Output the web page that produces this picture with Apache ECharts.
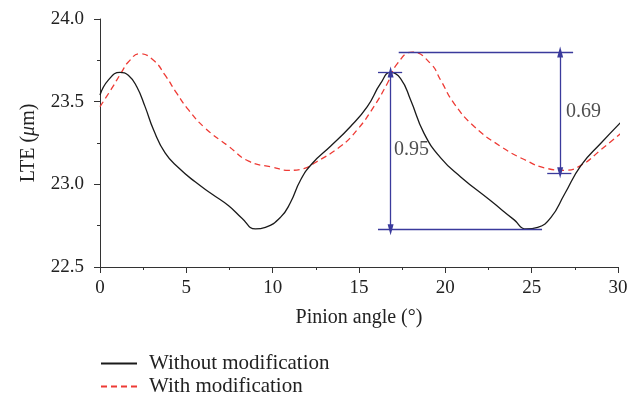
<!DOCTYPE html>
<html>
<head>
<meta charset="utf-8">
<script src="https://cdn.jsdelivr.net/npm/echarts@6/dist/echarts.min.js"></script>
<style>html,body{margin:0;padding:0;background:#fff}#c{width:637px;height:402px}</style>
</head>
<body>
<div id="c"></div>
<script>
// ---- data ----
const seriesNames = ['Without modification', 'With modification'];
const xTicks = [0, 5, 10, 15, 20, 25, 30];
const yTicks = [22.5, 23.0, 23.5, 24.0];

const withoutX = [0, 0.48, 1.16, 1.64, 2.13, 2.61, 3.1, 3.77, 4.55, 5.51, 6.5, 7.45, 8.22, 9.0, 9.58, 10.45, 11.03, 11.61, 12.29, 13.35, 14.51, 15.48, 16.25, 16.83, 17.41, 17.99, 18.76, 19.73, 20.89, 22.63, 23.99, 24.67, 25.35, 26.12, 26.9, 27.86, 29.02, 30.3];
const withoutY = [23.54, 23.63, 23.677, 23.66, 23.59, 23.47, 23.33, 23.19, 23.10, 23.015, 22.94, 22.87, 22.795, 22.73, 22.74, 22.80, 22.89, 23.025, 23.126, 23.23, 23.35, 23.47, 23.61, 23.677, 23.64, 23.51, 23.31, 23.16, 23.045, 22.90, 22.785, 22.73, 22.74, 22.80, 22.94, 23.115, 23.25, 23.39];

const withX = [0, 0.68, 1.26, 1.64, 2.32, 3.1, 3.77, 4.45, 5.13, 6.09, 7.45, 8.61, 9.96, 10.93, 11.8, 12.38, 13.93, 14.9, 15.86, 16.64, 17.22, 18.09, 19.15, 19.73, 20.5, 21.67, 23.2, 24.57, 25.93, 26.9, 27.86, 29.02, 30.3];
const withY = [23.47, 23.58, 23.68, 23.74, 23.79, 23.75, 23.66, 23.55, 23.45, 23.34, 23.23, 23.14, 23.105, 23.085, 23.095, 23.126, 23.23, 23.33, 23.47, 23.61, 23.73, 23.80, 23.73, 23.63, 23.49, 23.35, 23.23, 23.15, 23.095, 23.085, 23.115, 23.21, 23.32];

// annotation brackets: [x1, y1, x2, y2]
const bracketSegs = [[17.3, 23.80, 27.4, 23.80], [25.9, 23.07, 27.3, 23.07], [16.1, 23.68, 17.5, 23.68], [16.1, 22.726, 25.6, 22.726]];
// vertical double arrows: [x, yTop, yBottom]
const arrowSegs = [[26.65, 23.80, 23.07], [16.83, 23.68, 22.726]];
const annoText = ['0.69', '0.95'];
const annoX = [26.99, 17.02];
const annoY = [23.44, 23.21];

// ---- chart ----
const font = 'Liberation Serif';
const annoColor = '#3a3a9c';
const textColor = '#222';
const chart = echarts.init(document.getElementById('c'), null, {renderer: 'canvas'});

const zip = (xs, ys) => xs.map((x, i) => [x, ys[i]]);
const markData = [];
bracketSegs.forEach(s => markData.push([{coord: [s[0], s[1]], symbol: 'none'}, {coord: [s[2], s[3]], symbol: 'none'}]));
arrowSegs.forEach(s => markData.push([{coord: [s[0], s[1]], symbol: 'triangle'}, {coord: [s[0], s[2]], symbol: 'triangle'}]));

chart.setOption({
  animation: false,
  textStyle: {fontFamily: font},
  grid: {left: 100, right: 19, top: 19, bottom: 135},
  legend: {
    orient: 'vertical', left: 100, top: 353, padding: 0, itemWidth: 36, itemHeight: 10, itemGap: 2,
    itemStyle: {opacity: 0},
    textStyle: {fontFamily: font, fontSize: 21, color: textColor, padding: [0, 0, 0, 7]},
    data: seriesNames
  },
  xAxis: {
    type: 'value', min: xTicks[0], max: xTicks[xTicks.length - 1], interval: 5,
    name: 'Pinion angle (°)', nameLocation: 'middle', nameGap: 41,
    nameTextStyle: {fontFamily: font, fontSize: 20, color: textColor},
    axisLine: {lineStyle: {color: '#333', width: 1}},
    axisTick: {show: true, inside: false, length: 6, lineStyle: {color: '#333'}},
    minorTick: {show: true, splitNumber: 2, length: 3, lineStyle: {color: '#333'}},
    axisLabel: {fontFamily: font, fontSize: 19, color: textColor, margin: 12},
    splitLine: {show: false}
  },
  yAxis: {
    type: 'value', min: yTicks[0], max: yTicks[yTicks.length - 1], interval: 0.5,
    name: '{a|LTE (}{i|μ}{a|m)}', nameLocation: 'middle', nameGap: 61,
    nameTextStyle: {fontFamily: font, fontSize: 20, color: textColor,
      rich: {a: {fontFamily: font, fontSize: 20, color: textColor}, i: {fontFamily: font, fontSize: 20, fontStyle: 'italic', color: textColor}}},
    axisLine: {show: true, lineStyle: {color: '#333', width: 1}},
    axisTick: {show: true, inside: false, length: 6, lineStyle: {color: '#333'}},
    minorTick: {show: true, splitNumber: 2, length: 3, lineStyle: {color: '#333'}},
    axisLabel: {fontFamily: font, fontSize: 19, color: textColor, margin: 16, formatter: v => v.toFixed(1)},
    splitLine: {show: false}
  },
  series: [
    {
      name: seriesNames[0], type: 'line', data: zip(withoutX, withoutY), symbol: 'none', smooth: 0.5, clip: false,
      lineStyle: {color: '#1a1a1a', width: 1.3}, itemStyle: {color: '#1a1a1a'}, z: 3
    },
    {
      name: seriesNames[1], type: 'line', data: zip(withX, withY), symbol: 'none', smooth: 0.5, clip: false,
      lineStyle: {color: '#ee3a34', width: 1.3, type: [6, 4]}, itemStyle: {color: '#ee3a34'}, z: 2
    },
    {
      name: 'annotations', type: 'scatter', data: zip(annoX, annoY).map((p, i) => ({value: p, name: annoText[i]})),
      symbolSize: 0, z: 4, silent: true,
      label: {show: true, position: [0, 0], align: 'left', verticalAlign: 'middle', formatter: p => p.name,
        fontFamily: font, fontSize: 20, color: textColor},
      markLine: {
        silent: true, animation: false, symbolSize: [6, 11],
        lineStyle: {color: annoColor, width: 1.3, type: 'solid'},
        itemStyle: {color: annoColor},
        label: {show: false},
        emphasis: {disabled: true},
        data: markData
      }
    }
  ]
});
</script>
</body>
</html>
